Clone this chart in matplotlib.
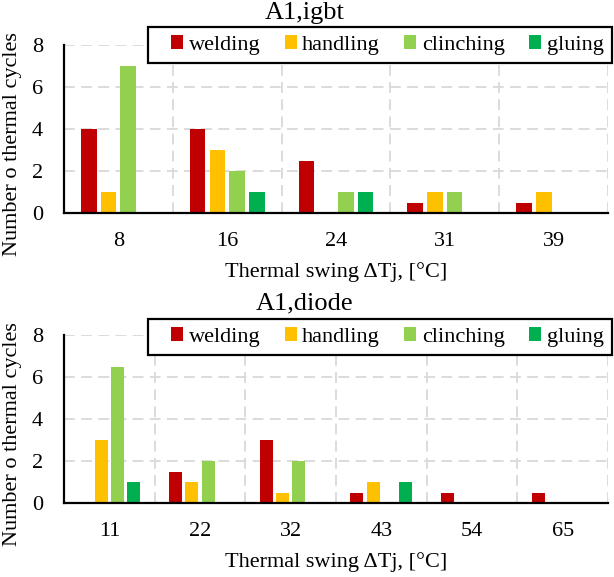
import matplotlib
matplotlib.use("Agg")
import matplotlib.pyplot as plt
from matplotlib.patches import Rectangle
import numpy as np

plt.rcParams['font.family'] = ['Liberation Serif', 'DejaVu Serif']

series = ["welding", "handling", "clinching", "gluing"]
colors = ["#C00000", "#FFC000", "#92D050", "#00B050"]

igbt_swing = ["8", "16", "24", "31", "39"]
igbt_welding = [4, 4, 2.5, 0.5, 0.5]
igbt_handling = [1, 3, 0, 1, 1]
igbt_clinching = [7, 2, 1, 1, 0]
igbt_gluing = [0, 1, 1, 0, 0]

diode_swing = ["11", "22", "32", "43", "54", "65"]
diode_welding = [0, 1.5, 3, 0.5, 0.5, 0.5]
diode_handling = [3, 1, 0.5, 1, 0, 0]
diode_clinching = [6.5, 2, 2, 0, 0, 0]
diode_gluing = [1, 0, 0, 1, 0, 0]

W, H = 614, 577
fig = plt.figure(figsize=(W / 100, H / 100), dpi=100)

FS = 16
TITLE_FS = 19
grid_color = "#D9D9D9"
pitch = 0.181
bar_w = 0.143


def px_axes(left, top, right, bottom):
    return fig.add_axes([left / W, 1 - bottom / H, (right - left) / W, (bottom - top) / H])


def panel(ax, title, title_y, labels, data, legend_box):
    n = len(labels)
    x = np.arange(n)
    for j, (vals, c, name) in enumerate(zip(data, colors, series)):
        ax.bar(x + (j - 1.5) * pitch, vals, width=bar_w, color=c, label=name, zorder=3)
    ax.set_xlim(-0.5, n - 0.5)
    ax.set_ylim(0, 8)
    ax.set_yticks([0, 2, 4, 6, 8])
    ax.set_xticks(x)
    ax.set_xticklabels(labels)
    ax.tick_params(axis="both", length=0, labelsize=FS)
    ax.tick_params(axis="y", pad=15)
    ax.tick_params(axis="x", pad=14)
    for yv in [2, 4, 6, 8]:
        ax.axhline(yv, color=grid_color, lw=1.3, ls=(0, (6, 3.5)), zorder=1)
    for xv in np.arange(n) + 0.5:
        ax.axvline(xv, color=grid_color, lw=1.3, ls=(0, (6, 3.5)), zorder=1)
    for s in ["top", "right"]:
        ax.spines[s].set_visible(False)
    for s in ["left", "bottom"]:
        ax.spines[s].set_linewidth(1.6)
        ax.spines[s].set_color("black")
        ax.spines[s].set_zorder(4)
    ax.set_xlabel("Thermal swing \u0394Tj, [\u00b0C]", fontsize=FS, labelpad=8)
    ax.set_ylabel("Number o thermal cycles", fontsize=FS)
    ax.yaxis.set_label_coords(-0.077, 0.408)
    fig.text(305 / W, 1 - title_y / H, title, fontsize=TITLE_FS, ha="center", va="center")

    # legend: boxed frame with the entries starting near its left edge
    x0, y0, x1, y1 = legend_box
    frame = Rectangle((x0 / W, 1 - y1 / H), (x1 - x0) / W, (y1 - y0) / H,
                      transform=fig.transFigure, facecolor="white", edgecolor="black",
                      linewidth=1.6, clip_on=False, zorder=4.5)
    ax.add_patch(frame)
    leg = ax.legend(loc="center left", ncol=4, fontsize=FS, frameon=False,
                    bbox_to_anchor=((x0 + 23) / W, 1 - (y0 + y1) / 2 / H),
                    bbox_transform=fig.transFigure,
                    handlelength=0.54, handleheight=0.54, handletextpad=0.25,
                    borderpad=0, columnspacing=1.1, borderaxespad=0)
    leg.set_zorder(5)


ax1 = px_axes(64, 45, 608, 213)
panel(ax1, "A1,igbt", 13, igbt_swing,
      [igbt_welding, igbt_handling, igbt_clinching, igbt_gluing], (148, 27, 612, 63))

ax2 = px_axes(64, 335, 608, 503)
panel(ax2, "A1,diode", 303, diode_swing,
      [diode_welding, diode_handling, diode_clinching, diode_gluing], (148, 319, 612, 355))

fig.savefig("out.png", dpi=100)
